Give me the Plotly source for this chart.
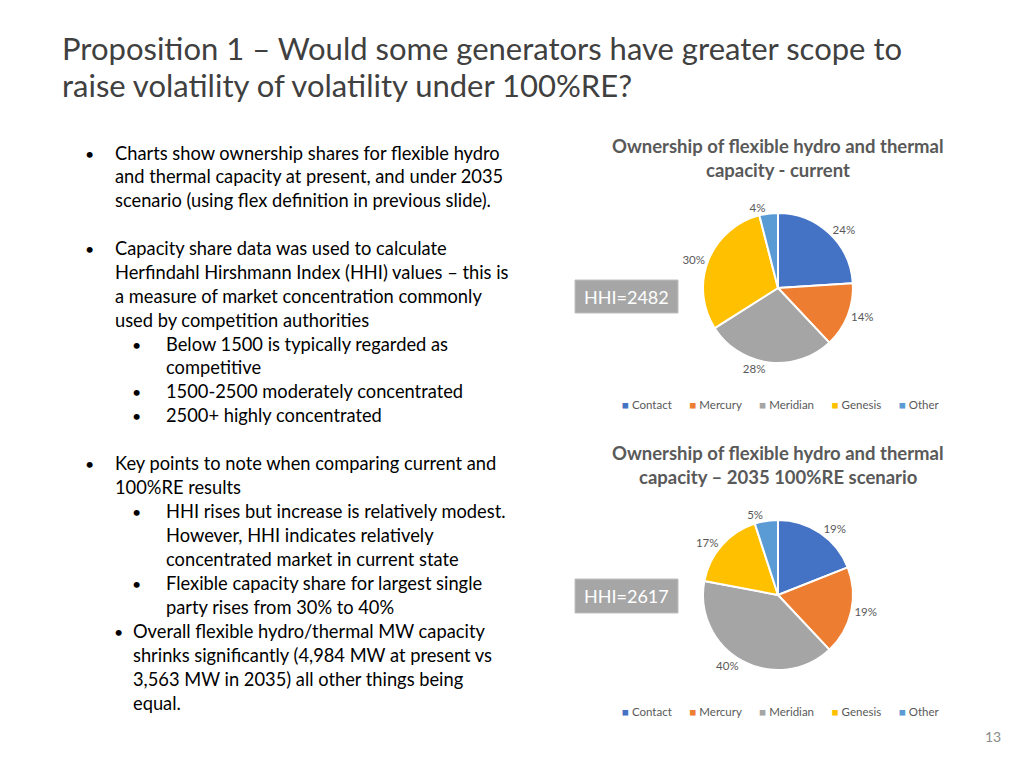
import plotly.graph_objects as go

W, H = 1024, 768
OFF = 8  # page body margin offset

companies = ["Contact", "Mercury", "Meridian", "Genesis", "Other"]
share_current = [24, 14, 28, 30, 4]
share_2035 = [19, 19, 40, 17, 5]
colors = ["#4472C4", "#ED7D31", "#A5A5A5", "#FFC000", "#5B9BD5"]
hhi_current = 2482
hhi_2035 = 2617

title_lines = ["Proposition 1 – Would some generators have greater scope to",
               "raise volatility of volatility under 100%RE?"]
chart_title_1 = ["Ownership of flexible hydro and thermal", "capacity - current"]
chart_title_2 = ["Ownership of flexible hydro and thermal", "capacity – 2035 100%RE scenario"]

# (bullet x, text x, y, bullet?, text)
body = [
    (83, 113, 153, True, "Charts show ownership shares for flexible hydro"),
    (83, 113, 176, False, "and thermal capacity at present, and under 2035"),
    (83, 113, 200, False, "scenario (using flex definition in previous slide)."),
    (83, 113, 248, True, "Capacity share data was used to calculate"),
    (83, 113, 272, False, "Herfindahl Hirshmann Index (HHI) values – this is"),
    (83, 113, 296, False, "a measure of market concentration commonly"),
    (83, 113, 320, False, "used by competition authorities"),
    (130, 164, 344, True, "Below 1500 is typically regarded as"),
    (130, 164, 367, False, "competitive"),
    (130, 164, 391, True, "1500-2500 moderately concentrated"),
    (130, 164, 415, True, "2500+ highly concentrated"),
    (83, 113, 463, True, "Key points to note when comparing current and"),
    (83, 113, 487, False, "100%RE results"),
    (130, 164, 511, True, "HHI rises but increase is relatively modest."),
    (130, 164, 535, False, "However, HHI indicates relatively"),
    (130, 164, 559, False, "concentrated market in current state"),
    (130, 164, 583, True, "Flexible capacity share for largest single"),
    (130, 164, 607, False, "party rises from 30% to 40%"),
    (112, 131, 631, True, "Overall flexible hydro/thermal MW capacity"),
    (112, 131, 655, False, "shrinks significantly (4,984 MW at present vs"),
    (112, 131, 679, False, "3,563 MW in 2035) all other things being"),
    (112, 131, 703, False, "equal."),
]

FONT = "Lato"


def px(x):
    return (x - OFF) / W


def py(y):
    return 1 - (y - OFF) / H


fig = go.Figure()

pie_common = dict(
    labels=companies,
    marker=dict(colors=colors, line=dict(color="white", width=2)),
    sort=False,
    direction="clockwise",
    rotation=0,
    texttemplate="%{value}%",
    textposition="outside",
    textfont=dict(family=FONT, size=11.5, color="#595959"),
    hoverinfo="label+percent",
    showlegend=False,
)

fig.add_trace(go.Pie(values=share_current, domain=dict(x=[px(703), px(853)], y=[py(363), py(213)]),
                     **pie_common))
fig.add_trace(go.Pie(values=share_2035, domain=dict(x=[px(703), px(853)], y=[py(670), py(520)]),
                     **pie_common))

ann = []
for i, t in enumerate(title_lines):
    ann.append(dict(x=px(60), y=py(48 + 37 * i), text=t, showarrow=False, xanchor="left", yanchor="middle",
                    font=dict(family=FONT, size=31, color="#404040")))

for ct, y0 in ((chart_title_1, 146), (chart_title_2, 453)):
    for i, t in enumerate(ct):
        ann.append(dict(x=px(778), y=py(y0 + 24 * i), text="<b>" + t + "</b>", showarrow=False,
                        xanchor="center", yanchor="middle",
                        font=dict(family=FONT, size=18.5, color="#595959")))

for bx, tx, y, b, t in body:
    if b:
        ann.append(dict(x=px(bx), y=py(y), text="•", showarrow=False, xanchor="left", yanchor="middle",
                        font=dict(family=FONT, size=16, color="#000000")))
    ann.append(dict(x=px(tx), y=py(y), text=t, showarrow=False, xanchor="left", yanchor="middle",
                    font=dict(family=FONT, size=18.3, color="#000000")))

shapes = []
for val, y0, y1 in ((hhi_current, 280, 313), (hhi_2035, 579, 613)):
    shapes.append(dict(type="rect", xref="paper", yref="paper", x0=px(575), x1=px(678), y0=py(y1), y1=py(y0),
                       fillcolor="#A6A6A6", line=dict(color="#BFBFBF", width=1), layer="below"))
    ann.append(dict(x=px(626), y=py((y0 + y1) / 2), text=f"HHI={val}", showarrow=False, xanchor="center",
                    yanchor="middle", font=dict(family=FONT, size=18, color="white")))

# legends drawn as text rows built from the company / colour arrays
legend_text = "&nbsp;&nbsp;&nbsp;&nbsp;&nbsp;&nbsp;".join(
    f"<span style='color:{c}'>■</span> {n}" for n, c in zip(companies, colors))
for y in (404, 711):
    ann.append(dict(x=px(781), y=py(y), text=legend_text, showarrow=False, xanchor="center", yanchor="middle",
                    font=dict(family=FONT, size=11.5, color="#595959")))

ann.append(dict(x=px(993), y=py(736), text="13", showarrow=False, xanchor="center", yanchor="middle",
                font=dict(family=FONT, size=14, color="#8C8C8C")))

fig.update_layout(
    width=W, height=H,
    margin=dict(l=0, r=0, t=0, b=0),
    paper_bgcolor="white", plot_bgcolor="white",
    annotations=ann, shapes=shapes,
    showlegend=False,
)

fig.write_html("out.html")
